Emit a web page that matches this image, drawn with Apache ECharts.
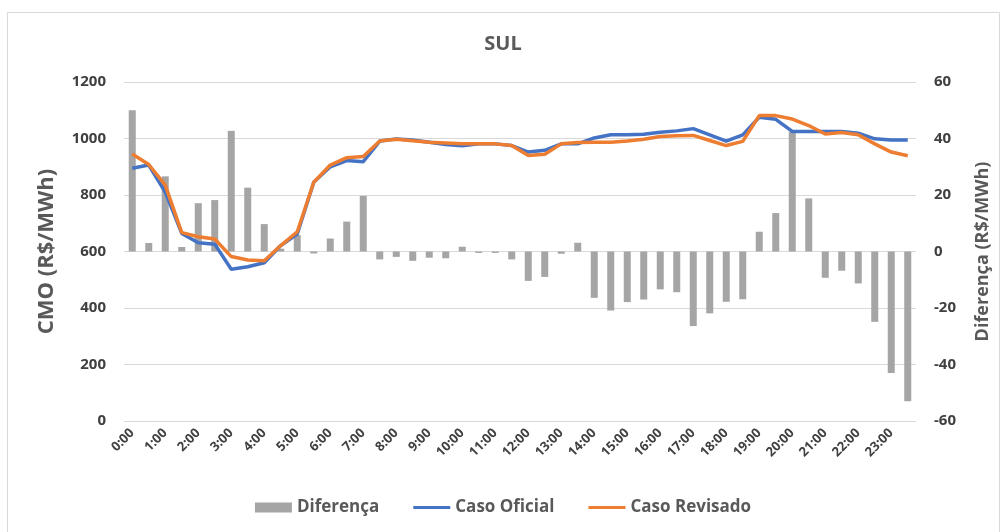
<!DOCTYPE html>
<html>
<head>
<meta charset="utf-8">
<script src="https://cdn.jsdelivr.net/npm/echarts@6/dist/echarts.min.js"></script>
<style>
  html, body { margin: 0; padding: 0; background: #fff; }
  #chart { width: 1006px; height: 532px; }
</style>
</head>
<body>
<div id="chart"></div>
<script>
const horas = [
  '0:00', '0:30', '1:00', '1:30', '2:00', '2:30', '3:00', '3:30',
  '4:00', '4:30', '5:00', '5:30', '6:00', '6:30', '7:00', '7:30',
  '8:00', '8:30', '9:00', '9:30', '10:00', '10:30', '11:00', '11:30',
  '12:00', '12:30', '13:00', '13:30', '14:00', '14:30', '15:00', '15:30',
  '16:00', '16:30', '17:00', '17:30', '18:00', '18:30', '19:00', '19:30',
  '20:00', '20:30', '21:00', '21:30', '22:00', '22:30', '23:00', '23:30',
];
const casoOficial = [
  895, 906, 810, 664, 631, 626, 537, 546, 560, 621, 662, 845,
  900, 922, 918, 991, 998, 995, 987, 979, 974, 981, 981, 975,
  952, 958, 981, 981, 1002, 1013, 1013, 1015, 1022, 1027, 1035, 1013,
  991, 1013, 1075, 1068, 1025, 1025, 1025, 1025, 1019, 999, 995, 995,
];
const casoRevisado = [
  945, 908, 835, 667, 652, 644, 582, 570, 567, 621, 670, 845,
  906, 932, 936, 991, 997, 992, 987, 984, 981, 981, 981, 975,
  940, 944, 981, 986, 987, 987, 991, 997, 1007, 1010, 1011, 993,
  975, 990, 1081, 1081, 1069, 1046, 1016, 1021, 1013, 981, 952, 939,
];
const diferenca = [
  50, 3, 26.6, 1.6, 17.1, 18.2, 42.7, 22.6, 9.7, 1.0, 5.8, -0.7,
  4.6, 10.6, 19.7, -2.8, -1.9, -3.3, -2.2, -2.4, 1.7, -0.5, -0.5, -2.8,
  -10.4, -9.0, -0.8, 3.1, -16.4, -20.9, -17.9, -17.0, -13.4, -14.4, -26.4, -21.9,
  -17.8, -16.9, 7.0, 13.6, 42.4, 18.8, -9.3, -6.8, -11.3, -24.9, -43.0, -53.0,
];

const fonte = '"Open Sans", "Noto Sans", sans-serif';
// icone de linha fina para a legenda (sem o circulo padrao)
const iconeLinha = 'path://M0,0 L37,0 L37,3 L0,3 Z';

const option = {
  backgroundColor: '#fff',
  animation: false,
  textStyle: { fontFamily: fonte },
  graphic: [
    {
      type: 'rect',
      shape: { x: 7.5, y: 12.5, width: 992, height: 530 },
      style: { fill: 'none', stroke: '#d9d9d9', lineWidth: 1 },
      silent: true,
    },
  ],
  title: {
    text: 'SUL',
    left: 'center',
    top: 29,
    textStyle: { color: '#595959', fontSize: 20, fontWeight: 'bold', fontFamily: fonte },
  },
  legend: {
    bottom: 11,
    left: 'center',
    itemGap: 34,
    itemWidth: 37,
    itemHeight: 10,
    textStyle: { color: '#595959', fontSize: 17, fontWeight: 'bold', fontFamily: fonte },
    data: [
      { name: 'Diferença', icon: 'rect' },
      { name: 'Caso Oficial', icon: iconeLinha },
      { name: 'Caso Revisado', icon: iconeLinha },
    ],
  },
  grid: {
    left: 124,
    right: 90,
    top: 82,
    bottom: 111,
  },
  xAxis: {
    type: 'category',
    data: horas,
    axisLine: { show: false },
    axisTick: { show: false },
    axisLabel: {
      interval: 1,
      rotate: 45,
      color: '#404040',
      fontSize: 13,
      fontWeight: 'bold',
      fontFamily: fonte,
      margin: 10,
    },
  },
  yAxis: [
    {
      type: 'value',
      min: 0,
      max: 1200,
      interval: 200,
      name: 'CMO (R$/MWh)',
      nameLocation: 'middle',
      nameGap: 66,
      nameTextStyle: { color: '#595959', fontSize: 22, fontWeight: 'bold', fontFamily: fonte },
      axisLine: { show: false },
      axisTick: { show: false },
      axisLabel: {
        color: '#404040', fontSize: 15, fontWeight: 'bold', fontFamily: fonte, margin: 18,
        formatter: (v) => String(v),
      },
      splitLine: { lineStyle: { color: '#d9d9d9', width: 1 } },
    },
    {
      type: 'value',
      min: -60,
      max: 60,
      interval: 20,
      name: 'Diferença (R$/MWh)',
      nameLocation: 'middle',
      nameRotate: 90,
      nameGap: 58,
      nameTextStyle: { color: '#595959', fontSize: 18, fontWeight: 'bold', fontFamily: fonte },
      axisLine: { show: false },
      axisTick: { show: false },
      axisLabel: {
        color: '#404040', fontSize: 15, fontWeight: 'bold', fontFamily: fonte, margin: 18,
        formatter: (v) => String(v),
      },
      splitLine: { show: false },
    },
  ],
  series: [
    {
      name: 'Diferença',
      type: 'bar',
      yAxisIndex: 1,
      barWidth: 7,
      itemStyle: { color: '#a5a5a5' },
      data: diferenca,
    },
    {
      name: 'Caso Oficial',
      type: 'line',
      yAxisIndex: 0,
      symbol: 'none',
      lineStyle: { color: '#4472c4', width: 3.5 },
      itemStyle: { color: '#4472c4' },
      data: casoOficial,
    },
    {
      name: 'Caso Revisado',
      type: 'line',
      yAxisIndex: 0,
      symbol: 'none',
      lineStyle: { color: '#ed7d31', width: 3.5 },
      itemStyle: { color: '#ed7d31' },
      data: casoRevisado,
    },
  ],
};

const chart = echarts.init(document.getElementById('chart'));
chart.setOption(option);
</script>
</body>
</html>
